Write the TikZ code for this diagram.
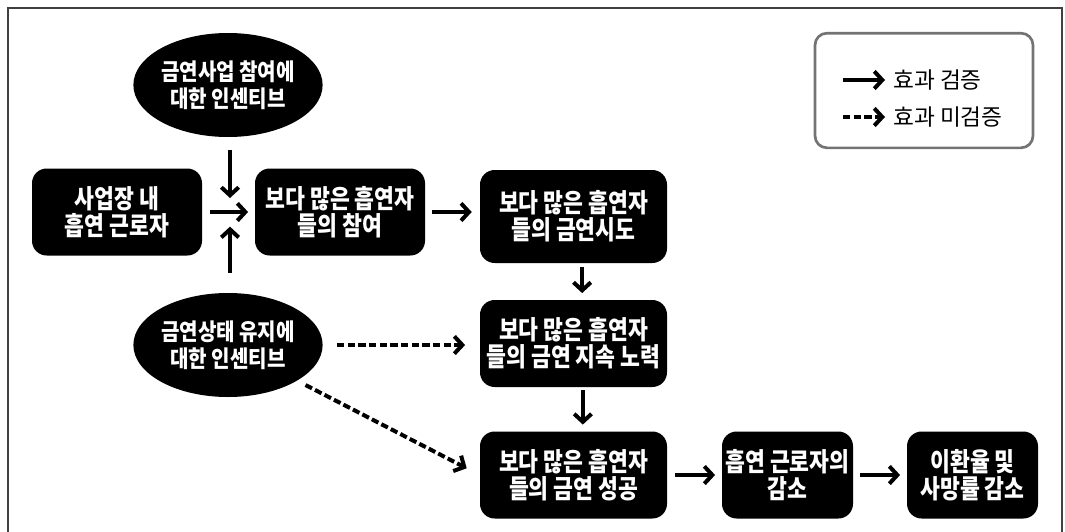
\documentclass[tikz,border=0pt]{standalone}
\usepackage{fontspec}
\setmainfont{Noto Sans CJK KR}
\newfontfamily\krb[FakeStretch=0.83]{Noto Sans CJK KR}
\newfontfamily\kre[FakeStretch=0.86]{Noto Sans CJK KR}
\usetikzlibrary{arrows.meta,shapes.geometric}
\begin{document}
\begin{tikzpicture}[x=0.75pt,y=-0.75pt,
  box/.style={font=\krb\bfseries\fontsize{19.5}{20.5}\selectfont, fill=black, text=white, rounded corners=11pt, align=center, inner sep=0pt, minimum height=65.25pt},
  oval/.style={ellipse, fill=black, text=white, align=center, inner sep=0pt, minimum width=136.5pt, minimum height=78pt, font=\kre\bfseries\fontsize{17.5}{20}\selectfont},
  arr/.style={line width=3pt, -{Straight Barb[length=6pt,width=13pt]}},
  darr/.style={arr, dash pattern=on 5.5pt off 2.5pt},
  legtext/.style={anchor=west, inner sep=0pt, font=\fontsize{17}{20}\selectfont}
]
\useasboundingbox (0,0) rectangle (1065,532);
% frame
\draw[line width=0.8pt, black!75] (8,540) -- (8,8) -- (1062,8) -- (1062,540);

% nodes
\node[oval] (e1) at (228,85) {금연사업 참여에\\대한 인센티브};
\node[oval] (e2) at (228,345) {금연상태 유지에\\대한 인센티브};
\node[box, minimum width=127.5pt] (b1) at (117,212) {사업장 내\\흡연 근로자};
\node[box, minimum width=127.5pt] (b2) at (340,212) {보다 많은 흡연자\\들의 참여};
\node[box, minimum width=140.25pt, minimum height=69.75pt] (b3) at (573.5,216.5) {보다 많은 흡연자\\들의 금연시도};
\node[box, minimum width=140.25pt] (b4) at (573.5,343.5) {보다 많은 흡연자\\들의 금연 지속 노력};
\node[box, minimum width=140.25pt] (b5) at (573.5,475) {보다 많은 흡연자\\들의 금연 성공};
\node[box, minimum width=98.25pt] (b6) at (787.5,475) {흡연 근로자의\\감소};
\node[box, minimum width=98.25pt] (b7) at (972.5,475) {이환율 및\\사망률 감소};
\coordinate (j) at (230,212);

% connectors
\draw[arr, shorten <=9.5pt, shorten >=10.5pt] (e1.south -| j) -- (j);
\draw[arr, shorten <=15pt, shorten >=11pt] (e2.north -| j) -- (j);
\draw[arr, shorten <=6pt, shorten >=5pt] (b1.east) -- (b2.west);
\draw[arr, shorten <=5pt, shorten >=6pt] (b2.east) -- (b3.west |- b2.east);
\draw[arr, shorten <=3pt, shorten >=5pt] ([xshift=6.5pt]b3.south) -- ([xshift=6.5pt]b4.north);
\draw[arr, shorten <=2pt, shorten >=5pt] ([xshift=7pt]b4.south) -- ([xshift=7pt]b5.north);
\draw[arr, shorten <=6pt, shorten >=5pt] (b5.east) -- (b6.west);
\draw[arr, shorten <=5pt, shorten >=5pt] (b6.east) -- (b7.west);
\draw[darr, shorten <=10.5pt, shorten >=11pt] (e2.east) -- (b4.west |- e2.east);
\draw[darr, shorten <=7pt, shorten >=11pt] (e2) -- (b5.west);

% legend
\node[draw=black!55, line width=2pt, rounded corners=9pt, minimum width=163.5pt, minimum height=86pt] (leg) at (924,90.5) {};
\coordinate (l1a) at (843,80);
\coordinate (l1b) at (885,80);
\coordinate (l2a) at (843,117);
\coordinate (l2b) at (885,117);
\draw[arr] (l1a) -- (l1b);
\draw[darr] (l2a) -- (l2b);
\node[legtext] (t1) at (893,80) {효과 검증};
\node[legtext] (t2) at (893,117) {효과 미검증};
\end{tikzpicture}
\end{document}
